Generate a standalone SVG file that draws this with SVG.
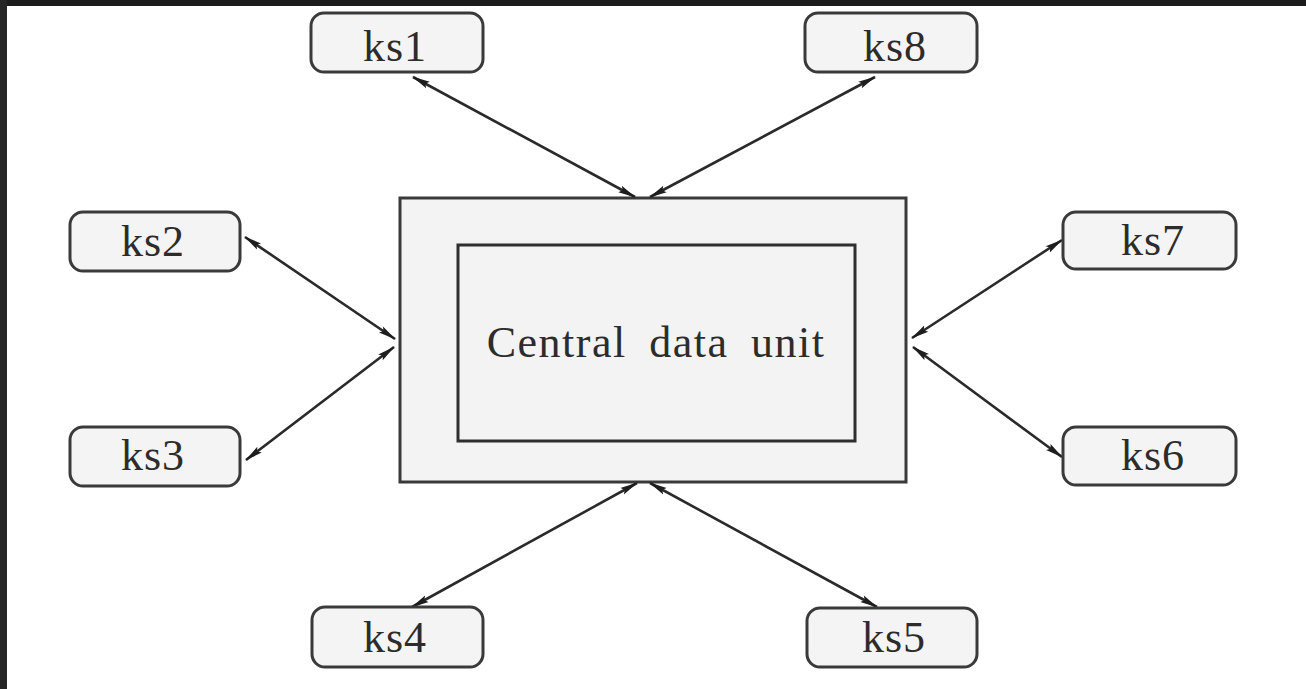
<svg xmlns="http://www.w3.org/2000/svg" width="1306" height="689" viewBox="0 0 1306 689">
<style>
.ks rect{fill:#f4f4f4;stroke:#3a3a3a;stroke-width:3}
.ks text{font-family:"Liberation Serif","Times New Roman",serif;font-size:44px;fill:#2c2c2c;text-anchor:middle;letter-spacing:1px}
.cn line{stroke:#2a2a2a;stroke-width:2.6;marker-start:url(#ah);marker-end:url(#ah)}
</style>
<defs>
<marker id="ah" viewBox="0 0 18 9" refX="17" refY="4.5" markerWidth="18" markerHeight="9" markerUnits="userSpaceOnUse" orient="auto-start-reverse">
<path d="M0,0.8 L18,4.5 L0,8.2 L3,4.5 Z" fill="#1e1e1e"/>
</marker>
</defs>
<rect x="0" y="0" width="1306" height="689" fill="#ffffff"/>
<rect x="0" y="0" width="1306" height="6" fill="#1c1c1c"/>
<rect x="0" y="0" width="7" height="689" fill="#262626"/>
<g id="central">
<rect x="400" y="198" width="506" height="284" fill="#f3f3f3" stroke="#3a3a3a" stroke-width="3"/>
<rect x="458" y="245" width="397" height="196" fill="#f3f3f3" stroke="#2e2e2e" stroke-width="3"/>
<text x="656" y="357" font-family="'Liberation Serif','Times New Roman',serif" font-size="44" fill="#2c2c2c" text-anchor="middle" letter-spacing="1.5" word-spacing="10">Central data unit</text>
</g>
<g class="cn" id="connectors">
<line x1="413" y1="77" x2="635" y2="197"/>
<line x1="875" y1="77" x2="650" y2="197"/>
<line x1="245" y1="237" x2="395" y2="339"/>
<line x1="246" y1="460" x2="394" y2="347"/>
<line x1="1062" y1="240" x2="912" y2="338"/>
<line x1="1062" y1="457" x2="913" y2="347"/>
<line x1="412" y1="607" x2="637" y2="483"/>
<line x1="877" y1="607" x2="650" y2="483"/>
</g>
<g class="ks" id="ks1"><rect x="311" y="13" width="172" height="59" rx="13"/><text x="395" y="61">ks1</text></g>
<g class="ks" id="ks8"><rect x="805" y="13" width="172" height="59" rx="13"/><text x="895" y="61">ks8</text></g>
<g class="ks" id="ks2"><rect x="70" y="212" width="170" height="59" rx="13"/><text x="153" y="256">ks2</text></g>
<g class="ks" id="ks3"><rect x="70" y="427" width="170" height="59" rx="13"/><text x="153" y="470">ks3</text></g>
<g class="ks" id="ks7"><rect x="1063" y="212" width="173" height="57" rx="13"/><text x="1153" y="255">ks7</text></g>
<g class="ks" id="ks6"><rect x="1063" y="427" width="173" height="58" rx="13"/><text x="1153" y="470">ks6</text></g>
<g class="ks" id="ks4"><rect x="312" y="607" width="171" height="60" rx="13"/><text x="395" y="652">ks4</text></g>
<g class="ks" id="ks5"><rect x="807" y="608" width="170" height="59" rx="13"/><text x="894" y="652">ks5</text></g>
</svg>
